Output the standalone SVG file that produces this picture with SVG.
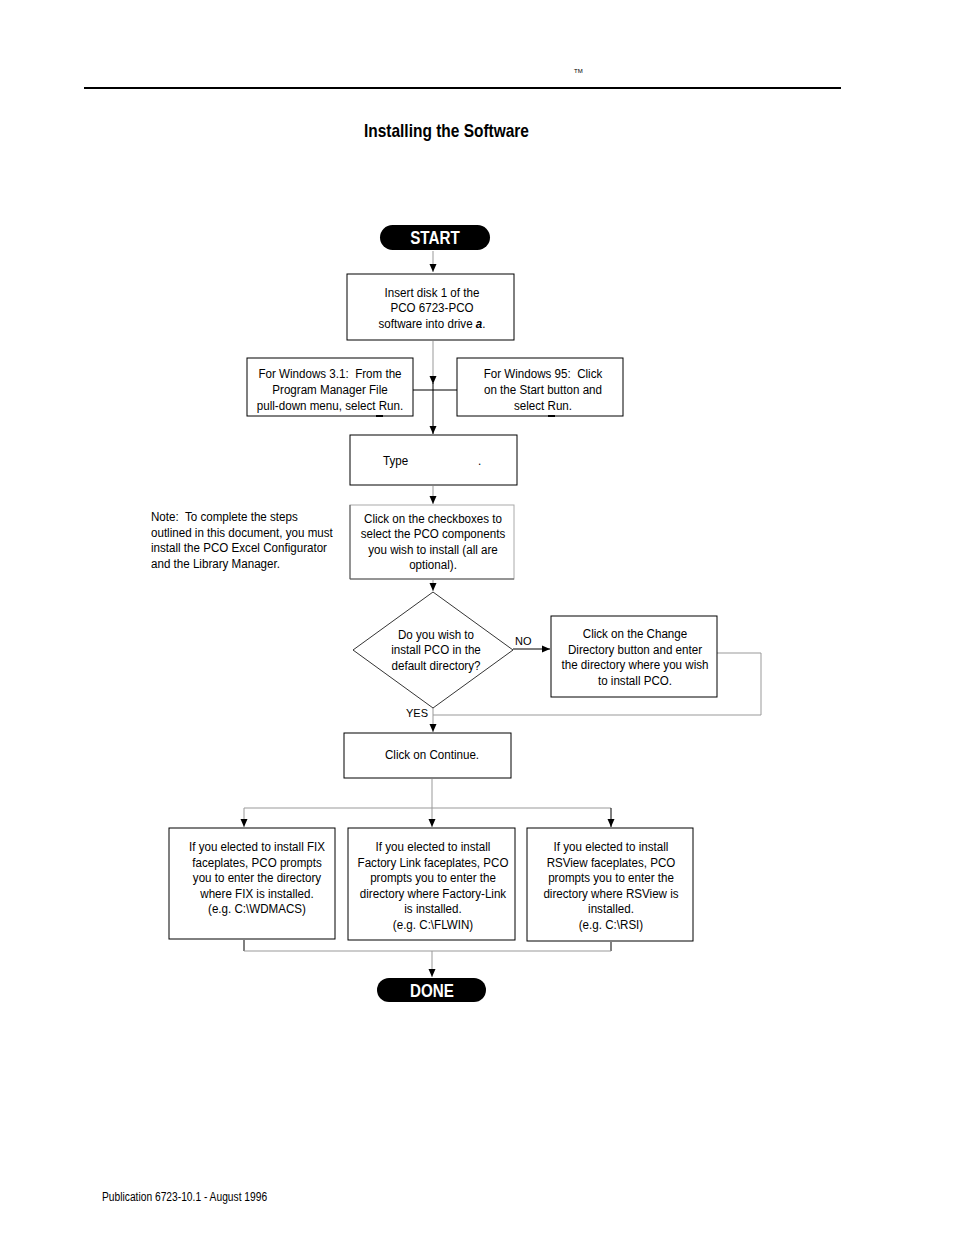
<svg xmlns="http://www.w3.org/2000/svg" width="954" height="1235" viewBox="0 0 954 1235">
<defs>
<marker id="ah" viewBox="0 0 8 10" refX="8" refY="5" markerWidth="8" markerHeight="10" markerUnits="userSpaceOnUse" orient="auto"><path d="M0,1.5 L8,5 L0,8.5 z" fill="#000"/></marker>
<style>
.t{font-family:"Liberation Sans",Arial,sans-serif;font-size:13.5px;fill:#000}
.c{text-anchor:middle}
.box{fill:#fff;stroke:#000;stroke-width:1}
.gl{fill:none;stroke:#999;stroke-width:1}
.bl{fill:none;stroke:#000;stroke-width:1}
.pill{font-family:"Liberation Sans",Arial,sans-serif;font-weight:bold;font-size:19px;fill:#fff;text-anchor:middle}
</style>
</defs>
<rect width="954" height="1235" fill="#fff"/>
<line x1="84" y1="88" x2="841" y2="88" stroke="#000" stroke-width="2"/>
<text x="574" y="73" style="font-family:'Liberation Sans',sans-serif;font-size:6px">TM</text>
<g transform="matrix(0.86 0 0 1 50.96 0)">
<text x="364" y="137" style="font-family:'Liberation Sans',sans-serif;font-size:18px;font-weight:bold">Installing the Software</text>
</g>

<g id="connectors">
<path class="gl" d="M433,251 V272" marker-end="url(#ah)"/>
<path class="gl" d="M433,341 V384" marker-end="url(#ah)"/>
<path class="bl" d="M433,383 V434" marker-end="url(#ah)"/>
<path class="bl" d="M413,390 H457"/>
<path class="gl" d="M433,486 V504" marker-end="url(#ah)"/>
<path class="gl" d="M433,580 V591" marker-end="url(#ah)"/>
<path class="bl" d="M513,649 H550" marker-end="url(#ah)"/>
<path class="gl" d="M717,653 H761 V715 H433"/>
<path class="gl" d="M433,708 V732" marker-end="url(#ah)"/>
<path class="gl" d="M432,779 V808 M244,808 H611"/>
<path class="gl" d="M244,808 V827" marker-end="url(#ah)"/>
<path class="gl" d="M432,808 V827" marker-end="url(#ah)"/>
<path class="bl" d="M611,808 V827" marker-end="url(#ah)"/>
<path class="bl" d="M244,940 V951"/>
<path class="bl" d="M611,942 V951"/>
<path class="gl" d="M244,951 H611"/>
<path class="gl" d="M432,951 V977" marker-end="url(#ah)"/>
<text class="t" x="515" y="645" style="font-size:11px">NO</text>
<text class="t" x="406" y="717" style="font-size:11px">YES</text>
</g>

<g id="start">
<rect x="380" y="225" width="110" height="25" rx="12.5" fill="#000"/>
<text class="pill" x="435" y="244.5" transform="matrix(0.8 0 0 1 87 0)">START</text>
</g>

<g id="insert">
<rect class="box" x="347" y="274" width="167" height="66"/>
<g transform="matrix(0.86 0 0 1 60.48 0)">
<text class="t c" x="432" y="297">Insert disk 1 of the</text>
<text class="t c" x="432" y="312">PCO 6723-PCO</text>
<text class="t c" x="432" y="328">software into drive <tspan font-weight="bold" font-style="italic">a</tspan>.</text>
</g>
</g>

<g id="win31">
<rect class="box" x="247" y="358" width="166" height="58"/>
<g transform="matrix(0.86 0 0 1 46.2 0)">
<text class="t c" x="330" y="378">For Windows 3.1:&#160; From the</text>
<text class="t c" x="330" y="394">Program Manager File</text>
<text class="t c" x="330" y="410">pull-down menu, select Run.</text>
</g>
<rect x="376" y="415" width="7" height="2" fill="#000"/>
</g>

<g id="win95">
<rect class="box" x="457" y="358" width="166" height="58"/>
<g transform="matrix(0.86 0 0 1 76.02 0)">
<text class="t c" x="543" y="378">For Windows 95:&#160; Click</text>
<text class="t c" x="543" y="394">on the Start button and</text>
<text class="t c" x="543" y="410">select Run.</text>
</g>
<rect x="548" y="415" width="7" height="2" fill="#000"/>
</g>

<g id="type">
<rect class="box" x="350" y="435" width="167" height="50"/>
<g transform="matrix(0.86 0 0 1 53.62 0)">
<text class="t" x="383" y="465">Type</text>
<text class="t" x="493.5" y="465">.</text>
</g>
</g>

<g id="note" transform="matrix(0.86 0 0 1 21.14 0)">
<text class="t" x="151" y="521">Note:&#160; To complete the steps</text>
<text class="t" x="151" y="537">outlined in this document, you must</text>
<text class="t" x="151" y="552">install the PCO Excel Configurator</text>
<text class="t" x="151" y="568">and the Library Manager.</text>
</g>

<g id="checkboxes">
<rect x="350" y="505" width="164" height="74" fill="#fff" stroke="#aaa" stroke-width="1"/>
<path d="M350,505 V579 H514" fill="none" stroke="#555" stroke-width="1"/>
<g transform="matrix(0.86 0 0 1 60.62 0)">
<text class="t c" x="433" y="523">Click on the checkboxes to</text>
<text class="t c" x="433" y="538">select the PCO components</text>
<text class="t c" x="433" y="554">you wish to install (all are</text>
<text class="t c" x="433" y="569">optional).</text>
</g>
</g>

<g id="decision">
<polygon points="433,592 513,650 433,708 353,650" fill="#fff" stroke="#000" stroke-width="0.8"/>
<g transform="matrix(0.86 0 0 1 61.04 0)">
<text class="t c" x="436" y="639">Do you wish to</text>
<text class="t c" x="436" y="654">install PCO in the</text>
<text class="t c" x="436" y="670">default directory?</text>
</g>
</g>

<g id="changedir">
<rect class="box" x="551" y="616" width="166" height="81"/>
<g transform="matrix(0.86 0 0 1 88.9 0)">
<text class="t c" x="635" y="638">Click on the Change</text>
<text class="t c" x="635" y="654">Directory button and enter</text>
<text class="t c" x="635" y="669">the directory where you wish</text>
<text class="t c" x="635" y="685">to install PCO.</text>
</g>
</g>

<g id="continue">
<rect class="box" x="344" y="733" width="167" height="45"/>
<text class="t c" x="432" y="759" transform="matrix(0.86 0 0 1 60.48 0)">Click on Continue.</text>
</g>

<g id="fix">
<rect class="box" x="169" y="828" width="166" height="111"/>
<g transform="matrix(0.86 0 0 1 35.98 0)">
<text class="t c" x="257" y="851">If you elected to install FIX</text>
<text class="t c" x="257" y="867">faceplates, PCO prompts</text>
<text class="t c" x="257" y="882">you to enter the directory</text>
<text class="t c" x="257" y="898">where FIX is installed.</text>
<text class="t c" x="257" y="913">(e.g. C:\WDMACS)</text>
</g>
</g>

<g id="factory">
<rect class="box" x="348" y="828" width="167" height="112"/>
<g transform="matrix(0.86 0 0 1 60.62 0)">
<text class="t c" x="433" y="851">If you elected to install</text>
<text class="t c" x="433" y="867">Factory Link faceplates, PCO</text>
<text class="t c" x="433" y="882">prompts you to enter the</text>
<text class="t c" x="433" y="898">directory where Factory-Link</text>
<text class="t c" x="433" y="913">is installed.</text>
<text class="t c" x="433" y="929">(e.g. C:\FLWIN)</text>
</g>
</g>

<g id="rsview">
<rect class="box" x="527" y="828" width="166" height="113"/>
<g transform="matrix(0.86 0 0 1 85.54 0)">
<text class="t c" x="611" y="851">If you elected to install</text>
<text class="t c" x="611" y="867">RSView faceplates, PCO</text>
<text class="t c" x="611" y="882">prompts you to enter the</text>
<text class="t c" x="611" y="898">directory where RSView is</text>
<text class="t c" x="611" y="913">installed.</text>
<text class="t c" x="611" y="929">(e.g. C:\RSI)</text>
</g>
</g>

<g id="done">
<rect x="377" y="978" width="109" height="24" rx="12" fill="#000"/>
<text class="pill" x="432" y="997" transform="matrix(0.8 0 0 1 86.4 0)">DONE</text>
</g>

<text class="t" x="102" y="1201" style="font-size:12.5px" transform="matrix(0.82 0 0 1 18.36 0)">Publication 6723-10.1 - August 1996</text>
</svg>
